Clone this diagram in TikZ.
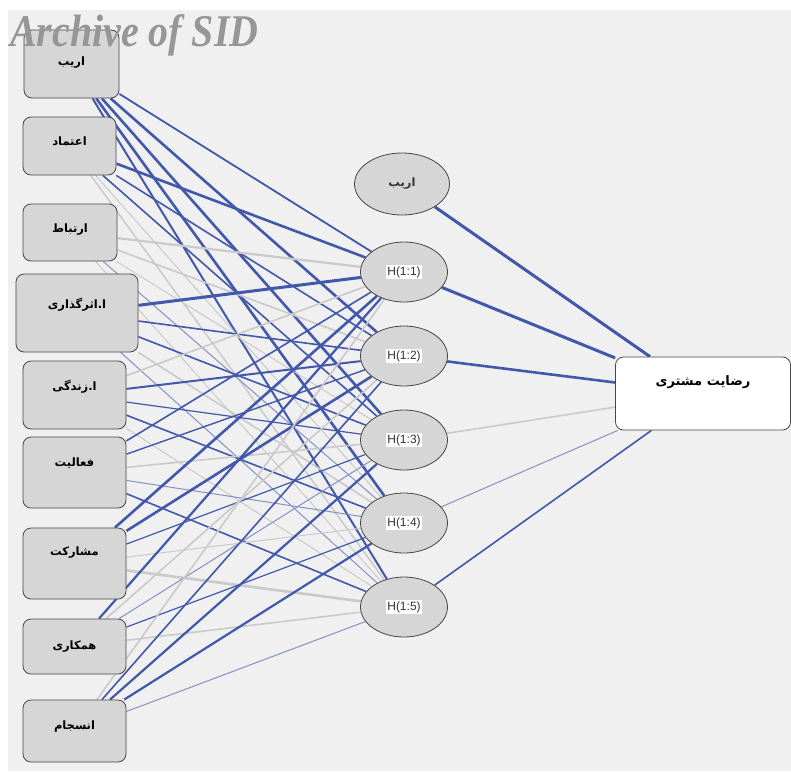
\documentclass[tikz,border=0pt]{standalone}
\usepackage{fontspec}
\setmainfont{Liberation Sans}
\newfontfamily\farsifont[Script=Arabic]{DejaVu Sans}
\newfontfamily\markfont{Liberation Serif}
\usepackage{tikz}
\usetikzlibrary{shapes.geometric,backgrounds}
\TeXXeTstate=1
\definecolor{panelgray}{RGB}{240,240,240}
\definecolor{nodegray}{RGB}{214,214,214}
\definecolor{bordergray}{RGB}{70,70,70}
\definecolor{wtblue}{RGB}{66,88,170}
\definecolor{wtgray}{RGB}{202,202,202}
\definecolor{markgray}{RGB}{150,150,150}
\newcommand{\faword}[1]{\beginR #1\endR}
\newcommand{\htag}[1]{{\setlength{\fboxsep}{1pt}\colorbox{white}{#1}}}

\begin{document}
\begin{tikzpicture}[
    x=1pt, y=-1pt,
    inbox/.style={rectangle, draw=bordergray, fill=nodegray, rounded corners=8pt, line width=0.8pt, inner sep=0pt},
    intext/.style={font=\farsifont\bfseries\fontsize{11.5}{11.5}\selectfont, inner sep=0pt},
    hidden/.style={ellipse, draw=bordergray, fill=nodegray, line width=0.8pt, minimum width=87pt, minimum height=60pt, inner sep=0pt, font=\fontsize{12}{12}\selectfont, text=black!80},
    poswt/.style={draw=wtblue, line width=#1},
    thinwt/.style={draw=wtblue!65, line width=#1},
    negwt/.style={draw=wtgray, line width=#1}
]

\useasboundingbox (0,0) rectangle (791,771);
\begin{scope}[on background layer]
\fill[panelgray] (8,10) rectangle (791,771);
\end{scope}

% Input layer
\node[inbox, minimum width=95pt, minimum height=68pt] (in1) at (71.5,64) {};
\node[inbox, minimum width=93pt, minimum height=58pt] (in2) at (69.5,146) {};
\node[inbox, minimum width=94pt, minimum height=57pt] (in3) at (70,232.5) {};
\node[inbox, minimum width=122pt, minimum height=78pt] (in4) at (77,313) {};
\node[inbox, minimum width=103pt, minimum height=68pt] (in5) at (74.5,395) {};
\node[inbox, minimum width=103pt, minimum height=71pt] (in6) at (74.5,472.5) {};
\node[inbox, minimum width=103pt, minimum height=71pt] (in7) at (74.5,563.5) {};
\node[inbox, minimum width=103pt, minimum height=55pt] (in8) at (74.5,646.5) {};
\node[inbox, minimum width=103pt, minimum height=62pt] (in9) at (74.5,731) {};

% Input labels near the top of each box
\node[intext] (in1t) at ([yshift=-33pt]in1.north) {\faword{اریب}};
\node[intext] (in2t) at ([yshift=-25pt]in2.north) {\faword{اعتماد}};
\node[intext] (in3t) at ([yshift=-26pt]in3.north) {\faword{ارتباط}};
\node[intext] (in4t) at ([yshift=-31pt]in4.north) {\faword{ا.اثرگذاری}};
\node[intext] (in5t) at ([yshift=-26pt]in5.north) {\faword{ا.زندگی}};
\node[intext] (in6t) at ([yshift=-26pt]in6.north) {\faword{فعالیت}};
\node[intext] (in7t) at ([yshift=-25pt]in7.north) {\faword{مشارکت}};
\node[intext] (in8t) at ([yshift=-28pt]in8.north) {\faword{همکاری}};
\node[intext] (in9t) at ([yshift=-27pt]in9.north) {\faword{انسجام}};

% Hidden layer
\node[hidden, minimum width=95pt, minimum height=62pt, font=\farsifont\bfseries\fontsize{11.5}{11.5}\selectfont] (hb) at (402,184) {\faword{اریب}};
\node[hidden] (h1) at (404,272) {\htag{H(1:1)}};
\node[hidden] (h2) at (404,356) {\htag{H(1:2)}};
\node[hidden] (h3) at (404,440) {\htag{H(1:3)}};
\node[hidden] (h4) at (404,523) {\htag{H(1:4)}};
\node[hidden] (h5) at (404,607) {\htag{H(1:5)}};

% Output layer
\node[inbox, fill=white, minimum width=175pt, minimum height=73pt] (out) at (703,393.5) {};
\node[intext, font=\farsifont\bfseries\fontsize{13}{13}\selectfont] (outt) at ([yshift=-26pt]out.north) {\faword{رضایت مشتری}};

% Synaptic weights (blue > 0, gray < 0)
\begin{scope}[on background layer]
\draw (in1) edge[poswt=1.8] (h1) edge[poswt=2.6] (h2) edge[poswt=2.6] (h3) edge[poswt=2.6] (h4) edge[poswt=2.0] (h5);
\draw (in2) edge[poswt=2.6] (h1) edge[poswt=1.6] (h2) edge[poswt=1.6] (h3) edge[negwt=1.0] (h4) edge[negwt=1.5] (h5);
\draw (in3) edge[negwt=2.2] (h1) edge[negwt=1.6] (h2) edge[negwt=1.0] (h3) edge[thinwt=1.0] (h4) edge[negwt=1.0] (h5);
\draw (in4) edge[poswt=3.0] (h1) edge[poswt=1.6] (h2) edge[poswt=1.6] (h3) edge[negwt=1.6] (h4) edge[thinwt=1.0] (h5);
\draw (in5) edge[negwt=1.6] (h1) edge[poswt=2.0] (h2) edge[poswt=1.2] (h3) edge[poswt=1.6] (h4) edge[negwt=1.0] (h5);
\draw (in6) edge[poswt=1.6] (h1) edge[poswt=1.4] (h2) edge[negwt=1.6] (h3) edge[thinwt=1.0] (h4) edge[poswt=1.6] (h5);
\draw (in7) edge[poswt=2.6] (h1) edge[poswt=2.6] (h2) edge[poswt=1.2] (h3) edge[negwt=1.0] (h4) edge[negwt=2.6] (h5);
\draw (in8) edge[poswt=2.2] (h1) edge[negwt=1.6] (h2) edge[thinwt=1.0] (h3) edge[poswt=1.2] (h4) edge[negwt=1.6] (h5);
\draw (in9) edge[negwt=1.6] (h1) edge[poswt=1.6] (h2) edge[poswt=2.2] (h3) edge[poswt=2.2] (h4) edge[thinwt=1.0] (h5);
% hidden to output
\draw (out) edge[poswt=3.0] (hb) edge[poswt=3.0] (h1) edge[poswt=2.6] (h2) edge[negwt=1.6] (h3) edge[thinwt=1.0] (h4) edge[poswt=1.6] (h5);
\end{scope}

% Watermark
\node[font=\markfont\bfseries\itshape\fontsize{42}{42}\selectfont, text=markgray, anchor=base west, xscale=0.95, yscale=1.08, inner sep=0pt] (mark) at (10,46) {Archive of SID};

\end{tikzpicture}
\end{document}
